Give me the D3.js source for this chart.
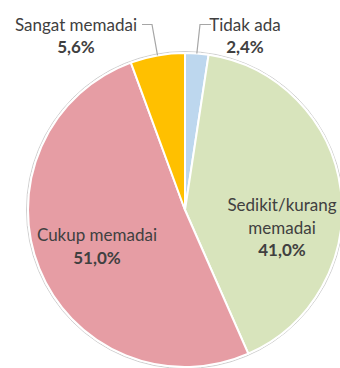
<!DOCTYPE html>
<html>
<head>
<meta charset="utf-8">
<script src="https://cdn.jsdelivr.net/npm/d3@7"></script>
<style>
  html, body { margin: 0; padding: 0; background: #fff; }
  svg { display: block; }
  text { font-family: Lato, "Open Sans", sans-serif; fill: #404040; }
</style>
</head>
<body>
<svg id="chart" width="340" height="368"></svg>
<script>
// Kategori dan nilai (%)
const categories = ["Tidak ada", "Sedikit/kurang memadai", "Cukup memadai", "Sangat memadai"];
const values = [2.4, 41.0, 51.0, 5.6];
const colors = ["#BDD7EE", "#D8E4BC", "#E69DA4", "#FFC000"];

const W = 340, H = 368;
const cx = 185, cy = 210, R = 157;

const svg = d3.select("#chart");
const g = svg.append("g").attr("transform", `translate(${cx},${cy})`);

const data = categories.map((c, i) => ({ name: c, value: values[i], color: colors[i] }));

const pie = d3.pie().value(d => d.value).sort(null);
const arcs = pie(data);
const arc = d3.arc().innerRadius(0).outerRadius(R);

// faint outline around the whole pie
g.append("circle").attr("r", R + 1.5)
  .attr("fill", "none").attr("stroke", "#cfcfcf").attr("stroke-width", 1);

g.selectAll("path.slice").data(arcs).enter().append("path")
  .attr("class", "slice")
  .attr("d", arc)
  .attr("fill", d => d.data.color)
  .attr("stroke", "#fff").attr("stroke-width", 2).attr("stroke-linejoin", "round");

const fmt = v => v.toFixed(1).replace(".", ",") + "%";
const fs = 17, lh = 22.5;

function label(lines, pct, x, yFirst) {
  const t = svg.append("text").attr("text-anchor", "middle").attr("font-size", fs);
  lines.forEach((l, i) => t.append("tspan").attr("x", x).attr("y", yFirst + i * lh).text(l));
  t.append("tspan").attr("x", x).attr("y", yFirst + lines.length * lh)
    .attr("font-weight", "bold").text(pct);
}

// edge point at the middle of a slice
function edgePoint(a, rr) {
  const m = (a.startAngle + a.endAngle) / 2;
  return [cx + rr * Math.sin(m), cy - rr * Math.cos(m)];
}

const line = d3.line();
const lead = "#a6a6a6";

// Tidak ada (outside, leader line)
{
  const p = edgePoint(arcs[0], R);
  svg.append("path").attr("d", line([[211, 24.5], [200, 24.5], p]))
    .attr("fill", "none").attr("stroke", lead).attr("stroke-width", 1.2);
  label([categories[0]], fmt(values[0]), 245, 30.5);
}
// Sangat memadai (outside, leader line)
{
  const p = edgePoint(arcs[3], R);
  svg.append("path").attr("d", line([[142, 24.5], [152, 24.5], p]))
    .attr("fill", "none").attr("stroke", lead).attr("stroke-width", 1.2);
  label([categories[3]], fmt(values[3]), 76, 30.5);
}
// inside labels
label(["Sedikit/kurang", "memadai"], fmt(values[1]), 282, 211);
label([categories[2]], fmt(values[2]), 97, 241);
</script>
</body>
</html>
